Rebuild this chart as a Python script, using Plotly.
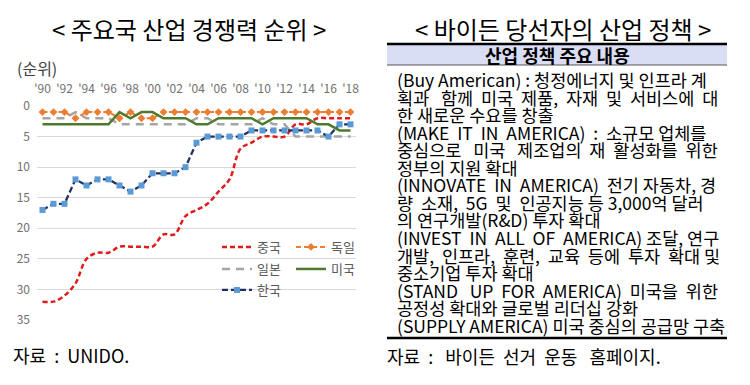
import plotly.graph_objects as go

# ---------------- data ----------------
years = list(range(1990, 2019))
china = [32, 32, 31, 29, 25, 24, 24, 23, 23, 23, 23, 21, 21, 18, 17, 16, 14, 12, 7, 6, 5, 5, 5, 3, 3, 2, 2, 2, 2]
germany = [1, 1, 1, 2, 1, 1, 1, 2, 1, 2, 2, 1, 1, 1, 1, 1, 1, 1, 1, 1, 1, 1, 1, 1, 1, 1, 1, 1, 1]
japan = [2, 2, 2, 1, 2, 2, 2, 3, 3, 3, 3, 3, 3, 3, 2, 2, 3, 3, 3, 3, 2, 3, 3, 5, 5, 5, 5, 5, 5]
usa = [3, 3, 3, 3, 3, 3, 3, 1, 2, 1, 1, 2, 2, 2, 3, 3, 2, 2, 2, 2, 3, 2, 2, 2, 2, 3, 3, 4, 4]
korea = [17, 16, 16, 12, 13, 12, 12, 13, 14, 13, 11, 11, 11, 10, 6, 5, 5, 5, 5, 4, 4, 4, 4, 4, 4, 4, 5, 3, 3]

xtick_vals = list(range(1990, 2019, 2))
xtick_text = ["'%02d" % (y % 100) for y in xtick_vals]
ytick_vals = [0, 5, 10, 15, 20, 25, 30, 35]

left_title = "< 주요국 산업 경쟁력 순위 >"
right_title = "< 바이든 당선자의 산업 정책 >"
table_header = "산업 정책 주요 내용"
left_source = "자료\u00a0\u00a0:\u00a0\u00a0UNIDO."
right_source = "자료\u00a0\u00a0:\u00a0\u00a0\u00a0바이든\u00a0\u00a0선거\u00a0\u00a0운동\u00a0\u00a0\u00a0홈페이지."
body_lines = [
    "(Buy American) : 청정에너지 및 인프라 계",
    "획과 함께 미국 제품, 자재 및 서비스에 대",
    "한 새로운 수요를 창출",
    "(MAKE IT IN AMERICA) : 소규모 업체를",
    "중심으로 미국 제조업의 재 활성화를 위한",
    "정부의 지원 확대",
    "(INNOVATE IN AMERICA) 전기 자동차, 경",
    "량 소재, 5G 및 인공지능 등 3,000억 달러",
    "의 연구개발(R&amp;D) 투자 확대",
    "(INVEST IN ALL OF AMERICA) 조달, 연구",
    "개발, 인프라, 훈련, 교육 등에 투자 확대 및",
    "중소기업 투자 확대",
    "(STAND UP FOR AMERICA) 미국을 위한",
    "공정성 확대와 글로벌 리더십 강화",
    "(SUPPLY AMERICA) 미국 중심의 공급망 구축",
]
# extra non-breaking spaces used to imitate the justified text block
body_pad = [0, 8, 0, 5, 7, 0, 3, 4, 0, 4, 6, 0, 6, 0, 0]

W, H = 750, 385
OFF = 8  # page body margin of the browser
FONT = "Noto Sans CJK KR"


def px(x):
    return (x - OFF) / W


def py(y):
    return 1 - (y - OFF) / H


def justify(line, n):
    parts = line.split(" ")
    gaps = len(parts) - 1
    if n <= 0 or gaps <= 0:
        return line
    extra = [n // gaps + (1 if i < n % gaps else 0) for i in range(gaps)]
    out = parts[0]
    for i in range(gaps):
        out += " " + "\u00a0" * extra[i] + parts[i + 1]
    return out


fig = go.Figure()

fig.add_trace(go.Scatter(
    x=years, y=china, name="중국", mode="lines", line_shape="spline",
    line=dict(color="#E01B1B", width=2.5, dash="5px,3px"), legend="legend"))
fig.add_trace(go.Scatter(
    x=years, y=germany, name="독일", mode="lines+markers",
    line=dict(color="#ED7D31", width=2, dash="5px,3px"),
    marker=dict(symbol="diamond", size=6, color="#ED7D31"), legend="legend2"))
fig.add_trace(go.Scatter(
    x=years, y=japan, name="일본", mode="lines",
    line=dict(color="#A5A5A5", width=2.5, dash="8px,6px"), legend="legend3"))
fig.add_trace(go.Scatter(
    x=years, y=usa, name="미국", mode="lines",
    line=dict(color="#4E7A2E", width=2.5), legend="legend4"))
fig.add_trace(go.Scatter(
    x=years, y=korea, name="한국", mode="lines+markers",
    line=dict(color="#1F2F5F", width=2.25, dash="6px,3px"),
    marker=dict(symbol="square", size=6, color="#5B9BD5"), legend="legend5"))

leg_common = dict(bgcolor="rgba(0,0,0,0)", font=dict(size=13, color="#595959", family=FONT),
                  xanchor="left", yanchor="middle", itemwidth=30, borderwidth=0)

fig.update_layout(
    width=W, height=H,
    margin=dict(l=0, r=0, t=0, b=0, autoexpand=False),
    paper_bgcolor="white", plot_bgcolor="white",
    font=dict(family=FONT, color="black"),
    showlegend=True,
    legend=dict(x=px(217), y=py(247), **leg_common),
    legend2=dict(x=px(291), y=py(247), **leg_common),
    legend3=dict(x=px(217), y=py(269), **leg_common),
    legend4=dict(x=px(291), y=py(269), **leg_common),
    legend5=dict(x=px(217), y=py(290), **leg_common),
    xaxis=dict(domain=[px(37), px(356)], range=[1989.5, 2018.5], side="top",
               tickvals=xtick_vals, ticktext=xtick_text, showgrid=False, zeroline=False,
               showline=False, ticks="", tickfont=dict(size=12, color="#707070"),
               ticklabelstandoff=10, automargin=False, fixedrange=True),
    yaxis=dict(domain=[py(320), py(106)], range=[35, 0], tickvals=ytick_vals,
               showgrid=True, gridcolor="#D9D9D9", gridwidth=1, zeroline=False,
               showline=False, ticks="", tickfont=dict(size=12, color="#707070"),
               ticklabelstandoff=6, automargin=False, fixedrange=True),
)

ann = []
ann.append(dict(x=px(189), y=py(28), xref="paper", yref="paper", text=left_title,
                showarrow=False, font=dict(size=24, color="black"), xanchor="center", yanchor="middle"))
ann.append(dict(x=px(563), y=py(28), xref="paper", yref="paper", text=right_title,
                showarrow=False, font=dict(size=24, color="black"), xanchor="center", yanchor="middle"))
ann.append(dict(x=px(15), y=py(68), xref="paper", yref="paper", text="(순위)",
                showarrow=False, font=dict(size=16, color="#404040"), xanchor="left", yanchor="middle"))
ann.append(dict(x=px(11), y=py(355), xref="paper", yref="paper", text=left_source,
                showarrow=False, font=dict(size=18, color="black"), xanchor="left", yanchor="middle"))
ann.append(dict(x=px(385), y=py(356), xref="paper", yref="paper", text=right_source,
                showarrow=False, font=dict(size=18, color="black"), xanchor="left", yanchor="middle"))
ann.append(dict(x=px(557), y=py(55), xref="paper", yref="paper", text="<b>" + table_header + "</b>",
                showarrow=False, font=dict(size=18, color="black"), xanchor="center", yanchor="middle"))

body_text = "<br>".join(
    '<span style="font-size:17.5px">' + justify(l, n) + "</span>" for l, n in zip(body_lines, body_pad))
ann.append(dict(x=px(395), y=py(202.5), xref="paper", yref="paper", text=body_text, align="left",
                showarrow=False, font=dict(size=13.5, color="black"), xanchor="left", yanchor="middle"))

fig.update_layout(annotations=ann)

shapes = [
    dict(type="rect", xref="paper", yref="paper", x0=px(387), x1=px(727), y0=py(65), y1=py(44),
         fillcolor="#D9DEF4", line=dict(width=0), layer="below"),
    dict(type="line", xref="paper", yref="paper", x0=px(387), x1=px(727), y0=py(44), y1=py(44),
         line=dict(color="black", width=2.5)),
    dict(type="line", xref="paper", yref="paper", x0=px(387), x1=px(727), y0=py(65), y1=py(65),
         line=dict(color="#555555", width=1)),
    dict(type="line", xref="paper", yref="paper", x0=px(387), x1=px(727), y0=py(338), y1=py(338),
         line=dict(color="black", width=2.5)),
]
fig.update_layout(shapes=shapes)

fig.write_html("out.html")
